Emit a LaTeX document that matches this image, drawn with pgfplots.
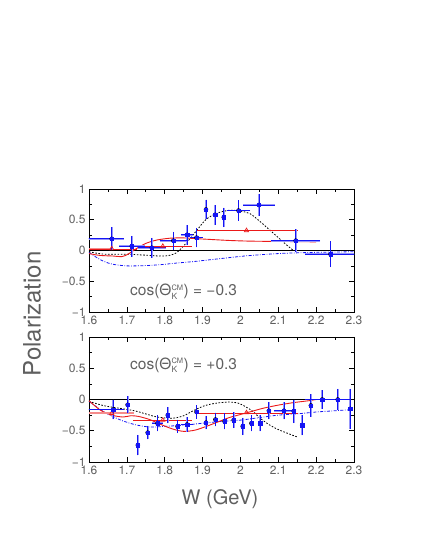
\documentclass[border=0pt]{standalone}
\usepackage{fontspec}
\setmainfont{TeX Gyre Heros}
\usepackage{pgfplots}
\usepackage{pgfplotstable}
\pgfplotsset{compat=1.18}
\definecolor{txtgray}{RGB}{95,95,95}
\definecolor{datblue}{RGB}{20,20,245}
\definecolor{haloblue}{RGB}{150,150,250}
\definecolor{curvred}{RGB}{235,25,25}
\definecolor{palered}{RGB}{245,140,140}

% upper panel (cos = -0.3)
\pgfplotstableread{
x y exm exp ey
1.660 0.19 0.060 0.026 0.15
1.713 0.07 0.028 0.028 0.13
1.766 0.045 0.030 0.030 0.12
1.823 0.16 0.030 0.030 0.105
1.859 0.255 0.010 0.010 0.12
1.884 0.21 0.010 0.010 0.12
1.995 0.65 0.024 0.024 0.13
2.049 0.74 0.035 0.035 0.14
2.146 0.16 0.058 0.058 0.15
2.238 -0.06 0.060 0.080 0.17
}\upxy
\pgfplotstableread{
x y ey
1.909 0.667 0.12
1.933 0.58 0.12
1.956 0.54 0.12
}\upy
% lower panel (cos = +0.3)
\pgfplotstableread{
x y exm exp ey
1.664 -0.16 0.064 0.022 0.12
1.781 -0.38 0.008 0.008 0.09
1.859 -0.40 0.010 0.010 0.08
2.115 -0.18 0.020 0.020 0.10
2.216 0.00 0.040 0.040 0.11
2.257 0.00 0.030 0.030 0.13
}\loxy
\pgfplotstableread{
x y ey
1.702 -0.085 0.10
1.729 -0.73 0.125
1.755 -0.53 0.07
1.808 -0.25 0.09
1.834 -0.43 0.07
1.884 -0.20 0.07
1.909 -0.37 0.07
1.934 -0.32 0.07
1.958 -0.35 0.09
1.982 -0.33 0.09
2.006 -0.43 0.10
2.029 -0.38 0.09
2.052 -0.38 0.09
2.075 -0.18 0.10
2.141 -0.19 0.15
2.163 -0.41 0.125
2.186 -0.095 0.14
2.290 -0.15 0.28
}\loy

\pgfplotsset{
  polpanel/.style={
    scale only axis, width=265pt,
    xmin=1.6, xmax=2.3, ymin=-1, ymax=1,
    xtick={1.6,1.7,1.8,1.9,2.0,2.1,2.2,2.3},
    xticklabels={1.6,1.7,1.8,1.9,2,2.1,2.2,2.3},
    ytick={-1,-0.5,0,0.5,1},
    yticklabels={−1,−0.5,0,0.5,1},
    minor x tick num=1, minor y tick num=1,
    tick label style={font=\fontsize{12}{12}\selectfont, text=txtgray},
    axis line style={black, line width=0.8pt},
    tick style={black, line width=0.6pt},
    major tick length=5pt, minor tick length=3pt,
  },
  bars/.style n args={2}{only marks,
    error bars/x dir=both, error bars/x explicit,
    error bars/y dir=both, error bars/y explicit,
    error bars/error bar style={draw=#1, line width=#2},
    error bars/error mark options={draw=#1, line width=#2, mark size=2.4pt}},
  ybars/.style n args={2}{only marks,
    error bars/y dir=both, error bars/y explicit,
    error bars/error bar style={draw=#1, line width=#2},
    error bars/error mark options={draw=#1, line width=#2, mark size=2.4pt}},
  bluemark/.style={mark=square*, mark size=1.7pt, mark options={fill=datblue, draw=datblue}},
  redcurve/.style={curvred, line width=0.9pt, smooth},
  blkdot/.style={black, line width=0.8pt, dash pattern=on 1.6pt off 1.6pt, smooth},
  bludash/.style={datblue, line width=0.8pt, dash pattern=on 3pt off 1.5pt on 0.8pt off 1.5pt, smooth},
  redtri/.style={curvred, only marks, mark=triangle, mark size=2.4pt, mark options={line width=0.7pt, fill=white}},
}

\begin{document}
\begin{tikzpicture}
\useasboundingbox (0,0) rectangle (425pt,550pt);

% ---- upper panel: cos = -0.3
\begin{axis}[polpanel, height=123pt, at={(89pt,238pt)}, anchor=south west]
\addplot[black, line width=0.8pt] coordinates {(1.6,0) (2.3,0)};
\addplot[bludash] coordinates {(1.60,-0.03) (1.63,-0.15) (1.66,-0.22) (1.70,-0.25) (1.75,-0.245) (1.79,-0.23) (1.83,-0.205) (1.876,-0.18) (1.92,-0.15) (1.964,-0.12) (2.01,-0.09) (2.05,-0.07) (2.10,-0.05) (2.14,-0.04) (2.20,-0.03) (2.30,-0.02)};
\addplot[blkdot] coordinates {(1.60,-0.02) (1.64,-0.06) (1.70,-0.06) (1.76,-0.08) (1.80,-0.09) (1.83,-0.04) (1.858,0.13) (1.885,0.33) (1.91,0.51) (1.94,0.61) (1.972,0.655) (2.00,0.64) (2.025,0.60) (2.052,0.47) (2.078,0.33) (2.10,0.21) (2.12,0.10) (2.14,0.0)};
\addplot[redcurve] coordinates {(1.600,-0.05) (1.629,-0.08) (1.664,-0.09) (1.686,-0.10) (1.700,-0.07) (1.713,-0.02) (1.730,0.05) (1.752,0.12) (1.779,0.17) (1.814,0.20) (1.849,0.205) (1.876,0.195) (1.920,0.18) (1.964,0.165) (2.008,0.155) (2.052,0.15) (2.140,0.145) (2.200,0.14)};
\addplot[palered, line width=1.6pt] coordinates {(1.6,0.02) (1.66,0.02)};
\addplot[curvred, line width=0.8pt] coordinates {(1.6,0.025) (1.728,0.025)};
\addplot[curvred, line width=0.8pt] coordinates {(1.743,0.065) (1.871,0.065)};
\addplot[curvred, line width=0.8pt] coordinates {(1.884,0.32) (2.153,0.32)};
\addplot[redtri] coordinates {(1.660,0.03) (1.795,0.07) (2.016,0.325)};
\addplot[bars={haloblue}{1.8pt}, mark=none] table[x=x, y=y, x error plus=exp, x error minus=exm, y error=ey] {\upxy};
\addplot[ybars={haloblue}{1.8pt}, mark=none] table[x=x, y=y, y error=ey] {\upy};
\addplot[bars={datblue}{0.8pt}, bluemark] table[x=x, y=y, x error plus=exp, x error minus=exm, y error=ey] {\upxy};
\addplot[ybars={datblue}{0.8pt}, bluemark] table[x=x, y=y, y error=ey] {\upy};
\node[font=\fontsize{15.5}{15.5}\selectfont, text=txtgray] at (axis cs:1.85,-0.67)
  {cos(Θ$^{\mbox{\fontsize{7.5}{7.5}\selectfont CM}}_{\mbox{\fontsize{8.5}{8.5}\selectfont K}}$) = −0.3};
\end{axis}

% ---- lower panel: cos = +0.3
\begin{axis}[polpanel, height=125pt, at={(89pt,88pt)}, anchor=south west]
\addplot[black, line width=0.8pt] coordinates {(1.6,0) (2.3,0)};
\addplot[bludash] coordinates {(1.60,-0.03) (1.64,-0.20) (1.68,-0.32) (1.72,-0.40) (1.76,-0.44) (1.80,-0.43) (1.85,-0.41) (1.90,-0.38) (1.95,-0.35) (2.00,-0.33) (2.05,-0.29) (2.10,-0.25) (2.15,-0.23) (2.20,-0.20) (2.25,-0.18) (2.30,-0.16)};
\addplot[blkdot] coordinates {(1.60,-0.03) (1.64,-0.10) (1.68,-0.14) (1.72,-0.18) (1.744,-0.22) (1.78,-0.28) (1.82,-0.30) (1.85,-0.26) (1.875,-0.18) (1.905,-0.10) (1.935,-0.06) (1.97,-0.04) (1.995,-0.06) (2.015,-0.12) (2.035,-0.20) (2.05,-0.29) (2.075,-0.40) (2.096,-0.47) (2.12,-0.53) (2.15,-0.60)};
\addplot[redcurve] coordinates {(1.60,-0.02) (1.63,-0.17) (1.66,-0.25) (1.69,-0.28) (1.71,-0.26) (1.73,-0.27) (1.76,-0.32) (1.79,-0.40) (1.82,-0.47) (1.85,-0.51) (1.88,-0.49) (1.91,-0.43) (1.94,-0.36) (1.97,-0.29) (2.00,-0.24) (2.03,-0.19) (2.06,-0.14) (2.10,-0.09) (2.14,-0.05) (2.18,-0.02) (2.20,0.0)};
\addplot[palered, line width=1.6pt] coordinates {(1.6,-0.22) (1.72,-0.22)};
\addplot[curvred, line width=0.8pt] coordinates {(1.717,-0.337) (1.871,-0.337)};
\addplot[curvred, line width=0.8pt] coordinates {(1.884,-0.215) (2.153,-0.215)};
\addplot[redtri] coordinates {(1.660,-0.22) (1.795,-0.33) (2.016,-0.21)};
\addplot[bars={haloblue}{1.8pt}, mark=none] table[x=x, y=y, x error plus=exp, x error minus=exm, y error=ey] {\loxy};
\addplot[ybars={haloblue}{1.8pt}, mark=none] table[x=x, y=y, y error=ey] {\loy};
\addplot[bars={datblue}{0.8pt}, bluemark] table[x=x, y=y, x error plus=exp, x error minus=exm, y error=ey] {\loxy};
\addplot[ybars={datblue}{0.8pt}, bluemark] table[x=x, y=y, y error=ey] {\loy};
\node[font=\fontsize{15.5}{15.5}\selectfont, text=txtgray] at (axis cs:1.85,0.55)
  {cos(Θ$^{\mbox{\fontsize{7.5}{7.5}\selectfont CM}}_{\mbox{\fontsize{8.5}{8.5}\selectfont K}}$) = +0.3};
\end{axis}

\node[rotate=90, font=\fontsize{24}{24}\selectfont, text=txtgray] at (32pt,236pt) {Polarization};
\node[font=\fontsize{20}{20}\selectfont, text=txtgray] at (220pt,51pt) {W (GeV)};
\end{tikzpicture}
\end{document}
